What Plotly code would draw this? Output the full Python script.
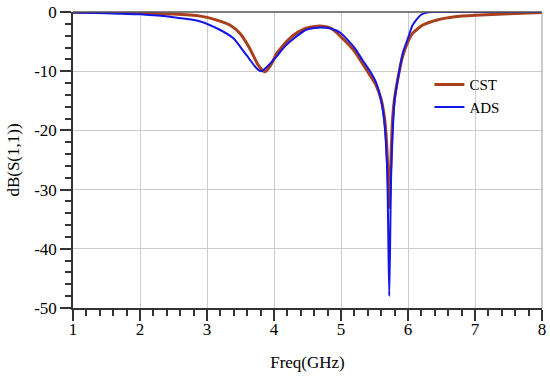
import plotly.graph_objects as go

cst_freq = [1.0, 1.5, 2.0, 2.5, 2.9, 3.1, 3.34, 3.49, 3.64, 3.76, 3.86, 3.95, 4.04, 4.14, 4.24,
            4.36, 4.48, 4.6, 4.72, 4.85, 5.0, 5.2, 5.32, 5.45, 5.52, 5.6, 5.65, 5.68, 5.71, 5.72,
            5.73, 5.77, 5.8, 5.87, 5.92, 6.0, 6.07, 6.22, 6.45, 6.7, 7.0, 7.5, 8.0]
cst_db = [-0.05, -0.1, -0.2, -0.35, -0.7, -1.2, -2.2, -3.6, -6.2, -8.9, -10.1, -9.0, -7.0, -5.6,
          -4.4, -3.4, -2.75, -2.45, -2.4, -2.75, -4.2, -6.6, -8.7, -11.0, -12.3, -14.8, -18.0,
          -22.0, -30.0, -33.0, -30.0, -18.0, -14.5, -10.0, -7.5, -5.0, -3.6, -2.2, -1.3, -0.8,
          -0.55, -0.3, -0.1]

ads_freq = [1.0, 1.5, 2.0, 2.5, 2.9, 3.19, 3.39, 3.59, 3.74, 3.81, 3.9, 4.04, 4.14, 4.24, 4.36,
            4.48, 4.6, 4.7, 4.85, 5.0, 5.2, 5.32, 5.45, 5.52, 5.6, 5.65, 5.69, 5.72, 5.75, 5.8,
            5.87, 5.92, 6.0, 6.07, 6.19, 6.3, 6.4, 8.0]
ads_db = [-0.1, -0.2, -0.4, -0.9, -1.6, -3.0, -4.4, -7.3, -9.5, -10.0, -9.2, -7.5, -6.1, -5.0,
          -3.9, -3.0, -2.7, -2.6, -2.8, -3.6, -6.0, -8.1, -10.3, -11.8, -15.0, -19.0, -27.0,
          -48.0, -27.0, -15.0, -10.0, -7.0, -4.4, -2.2, -0.5, -0.05, 0.0, 0.0]

x_ticks = [1, 2, 3, 4, 5, 6, 7, 8]
y_ticks = [0, -10, -20, -30, -40, -50]
y_tick_text = ["0", "-10", "-20", "-30", "-40", "-50"]

FONT = "Liberation Serif, Times New Roman, serif"

fig = go.Figure()
fig.add_trace(go.Scatter(x=cst_freq, y=cst_db, mode="lines", name="CST",
                         line=dict(color="#A8401E", width=3, shape="spline", smoothing=0.6)))
fig.add_trace(go.Scatter(x=ads_freq, y=ads_db, mode="lines", name="ADS",
                         line=dict(color="#1414E6", width=2, shape="spline", smoothing=0.6)))

fig.update_layout(
    width=550, height=379,
    margin=dict(l=73, r=8, t=12, b=71),
    paper_bgcolor="white", plot_bgcolor="white",
    font=dict(family=FONT, size=17, color="black"),
    showlegend=True,
    legend=dict(x=0.76, y=0.81, xanchor="left", yanchor="top", bgcolor="rgba(0,0,0,0)",
                font=dict(family=FONT, size=15), itemwidth=30, tracegroupgap=0),
    xaxis=dict(range=[1, 8], tickvals=x_ticks, ticks="outside", ticklen=11, tickwidth=1.5,
               tickcolor="#333", showline=True, linecolor="#333", linewidth=1.5,
               showgrid=True, gridcolor="#CCCCCC", gridwidth=1, zeroline=False, automargin=False,
               ticklabelstandoff=-6, ticklabeloverflow="allow",
               minor=dict(dtick=0.2, ticks="outside", ticklen=6, tickcolor="#333", showgrid=False),
               title=dict(text="Freq(GHz)", standoff=18, font=dict(size=17))),
    yaxis=dict(range=[-50, 0], tickvals=y_ticks, ticktext=y_tick_text, ticks="outside",
               ticklen=11, tickwidth=1.5, ticklabeloverflow="allow",
               tickcolor="#333", showline=True, linecolor="#333", linewidth=1.5,
               showgrid=True, gridcolor="#CCCCCC", gridwidth=1, zeroline=False, automargin=False,
               minor=dict(dtick=2, ticks="outside", ticklen=6, tickcolor="#333", showgrid=False),
               title=dict(text="dB(S(1,1))", standoff=10, font=dict(size=17))),
)
fig.add_shape(type="line", xref="paper", yref="paper", x0=0, x1=1, y0=1, y1=1,
              line=dict(color="#555", width=1.5))
fig.add_shape(type="line", xref="paper", yref="paper", x0=1, x1=1, y0=0, y1=1,
              line=dict(color="#999", width=1))

fig.write_html("out.html", config={"displayModeBar": False},
               post_script="document.body.style.margin='0';document.body.style.overflow='hidden';")
